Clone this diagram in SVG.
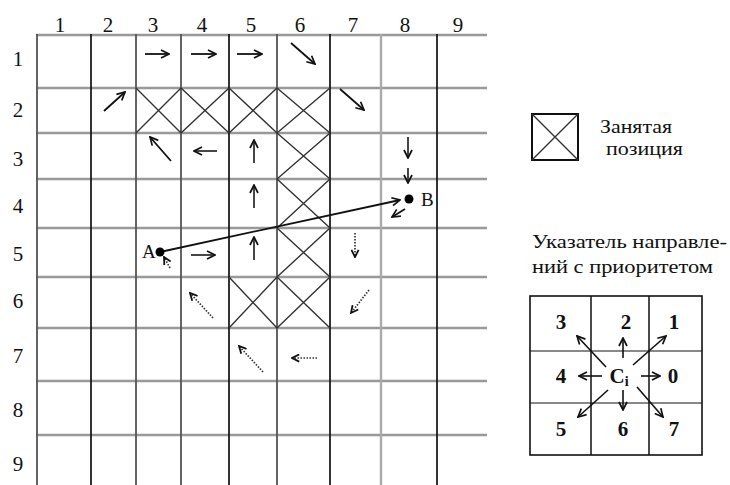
<svg xmlns="http://www.w3.org/2000/svg" width="730" height="485" viewBox="0 0 730 485">
<style>
.lbl{font-family:"Liberation Serif","Times New Roman",serif;font-size:21px;fill:#111;text-anchor:middle}
.leg{font-family:"Liberation Serif","Times New Roman",serif;font-size:19px;fill:#111}
.pn{font-family:"Liberation Serif","Times New Roman",serif;font-size:21px;font-weight:bold;fill:#111;text-anchor:middle}
.hl{stroke:#999;stroke-width:2.4;fill:none}
.vb{stroke:#111;stroke-width:1.7;fill:none}
.vg{stroke:#555;stroke-width:1.8;fill:none}
.vl{stroke:#aaa;stroke-width:2.4;fill:none}
.x{stroke:#333;stroke-width:1.4;fill:none}
.a{stroke:#111;stroke-width:1.8;fill:none;marker-end:url(#ah)}
.ag{stroke:#333;stroke-width:1.8;fill:none;marker-end:url(#ah)}
.d{stroke:#333;stroke-width:1.7;stroke-dasharray:1.5 1.5;fill:none;marker-end:url(#ahd)}
.pa{stroke:#111;stroke-width:1.6;fill:none;marker-end:url(#ah)}
</style>
<defs>
<marker id="ah" viewBox="0 0 10 10" refX="9" refY="5" markerWidth="10" markerHeight="10" markerUnits="userSpaceOnUse" orient="auto">
<path d="M1,1 L9,5 L1,9" fill="none" stroke="#111" stroke-width="1.7"/>
</marker>
<marker id="ahd" viewBox="0 0 10 10" refX="9" refY="5" markerWidth="9" markerHeight="9" markerUnits="userSpaceOnUse" orient="auto">
<path d="M1,1 L9,5 L1,9" fill="none" stroke="#111" stroke-width="2"/>
</marker>
</defs>
<rect width="730" height="485" fill="#fff"/>

<g id="grid">
<path class="hl" d="M36,35H487M36,88H487M36,133H487M36,179H487M36,228H487M36,277H487M36,328H487M36,381H487M36,435H487"/>
<path class="vg" d="M37,34V485M136,34V485M181,34V485M277,34V485"/>
<path class="vb" d="M91,34V485M229,34V485M330,34V485M437,34V485"/>
<path class="vl" d="M381,34V485"/>
</g>

<g id="col-labels">
<text class="lbl" x="60" y="32">1</text>
<text class="lbl" x="108" y="32">2</text>
<text class="lbl" x="153" y="32">3</text>
<text class="lbl" x="202" y="32">4</text>
<text class="lbl" x="251" y="32">5</text>
<text class="lbl" x="300" y="32">6</text>
<text class="lbl" x="353" y="32">7</text>
<text class="lbl" x="405" y="32">8</text>
<text class="lbl" x="458" y="32">9</text>
</g>
<g id="row-labels">
<text class="lbl" x="18" y="66">1</text>
<text class="lbl" x="18" y="117">2</text>
<text class="lbl" x="18" y="166">3</text>
<text class="lbl" x="18" y="213">4</text>
<text class="lbl" x="18" y="261">5</text>
<text class="lbl" x="18" y="308">6</text>
<text class="lbl" x="18" y="363">7</text>
<text class="lbl" x="18" y="417">8</text>
<text class="lbl" x="18" y="471">9</text>
</g>

<g id="occupied">
<path class="x" d="M136,88L181,133M181,88L136,133"/>
<path class="x" d="M181,88L229,133M229,88L181,133"/>
<path class="x" d="M229,88L277,133M277,88L229,133"/>
<path class="x" d="M277,88L330,133M330,88L277,133"/>
<path class="x" d="M277,133L330,179M330,133L277,179"/>
<path class="x" d="M277,179L330,228M330,179L277,228"/>
<path class="x" d="M277,228L330,277M330,228L277,277"/>
<path class="x" d="M229,277L277,328M277,277L229,328"/>
<path class="x" d="M277,277L330,328M330,277L277,328"/>
</g>

<g id="connectors">
<line class="a" x1="145" y1="54" x2="169" y2="54"/>
<line class="a" x1="191" y1="54" x2="216" y2="54"/>
<line class="a" x1="237" y1="54" x2="262" y2="54"/>
<line class="a" x1="291" y1="43" x2="315" y2="64"/>
<line class="a" x1="104" y1="111" x2="125" y2="92"/>
<line class="a" x1="340" y1="89" x2="364" y2="110"/>
<line class="a" x1="171" y1="161" x2="150" y2="137"/>
<line class="ag" x1="217" y1="151" x2="194" y2="151"/>
<line class="ag" x1="254" y1="163" x2="254" y2="140"/>
<line class="ag" x1="254" y1="208" x2="254" y2="185"/>
<line class="ag" x1="254" y1="260" x2="254" y2="237"/>
<line class="ag" x1="191" y1="255" x2="215" y2="255"/>
<line class="ag" x1="408" y1="137" x2="408" y2="158"/>
<line class="ag" x1="408" y1="168" x2="408" y2="183"/>
<line class="a" x1="405" y1="209" x2="392" y2="217"/>
<line class="a" x1="160" y1="252" x2="400" y2="200"/>
<line class="d" x1="170" y1="268" x2="164" y2="257"/>
<line class="d" x1="355" y1="233" x2="355" y2="257"/>
<line class="d" x1="369" y1="290" x2="351" y2="313"/>
<line class="d" x1="213" y1="318" x2="190" y2="293"/>
<line class="d" x1="263" y1="372" x2="239" y2="346"/>
<line class="d" x1="317" y1="358" x2="292" y2="358"/>
</g>

<g id="pointA">
<circle cx="160" cy="252" r="4.5" fill="#000"/>
<text class="leg" x="142" y="258" font-size="20">A</text>
</g>
<g id="pointB">
<circle cx="409" cy="199" r="4.5" fill="#000"/>
<text class="leg" x="421" y="206" font-size="20">B</text>
</g>

<g id="legend-occupied">
<rect x="532" y="114" width="46" height="46" fill="none" stroke="#111" stroke-width="2"/>
<path class="x" d="M532,114L578,160M578,114L532,160"/>
<text class="leg" x="600" y="133" textLength="72" lengthAdjust="spacingAndGlyphs">Занятая</text>
<text class="leg" x="606" y="155" textLength="77" lengthAdjust="spacingAndGlyphs">позиция</text>
</g>

<g id="legend-pointer">
<text class="leg" x="532" y="248" font-size="20" textLength="195" lengthAdjust="spacingAndGlyphs">Указатель направле-</text>
<text class="leg" x="532" y="273" font-size="20" textLength="181" lengthAdjust="spacingAndGlyphs">ний с приоритетом</text>
<path d="M530,351H702M530,403H702" stroke="#888" stroke-width="2" fill="none"/>
<path d="M591,296V455M649,296V455" stroke="#111" stroke-width="1.5" fill="none"/>
<rect x="530" y="296" width="172" height="159" fill="none" stroke="#111" stroke-width="1.6"/>
<text class="pn" x="561" y="329">3</text>
<text class="pn" x="626" y="329">2</text>
<text class="pn" x="674" y="329">1</text>
<text class="pn" x="561" y="383">4</text>
<text class="pn" x="673" y="383">0</text>
<text class="pn" x="561" y="436">5</text>
<text class="pn" x="623" y="436">6</text>
<text class="pn" x="674" y="436">7</text>
<text class="pn" x="619" y="383" font-size="22">C<tspan font-size="14" dy="3">i</tspan></text>
<line class="pa" x1="606" y1="367" x2="577" y2="336"/>
<line class="pa" x1="623" y1="358" x2="623" y2="338"/>
<line class="pa" x1="633" y1="365" x2="666" y2="336"/>
<line class="pa" x1="602" y1="376" x2="579" y2="376"/>
<line class="pa" x1="641" y1="376" x2="660" y2="376"/>
<line class="pa" x1="608" y1="390" x2="578" y2="417"/>
<line class="pa" x1="623" y1="390" x2="623" y2="410"/>
<line class="pa" x1="637" y1="387" x2="663" y2="417"/>
</g>
</svg>
